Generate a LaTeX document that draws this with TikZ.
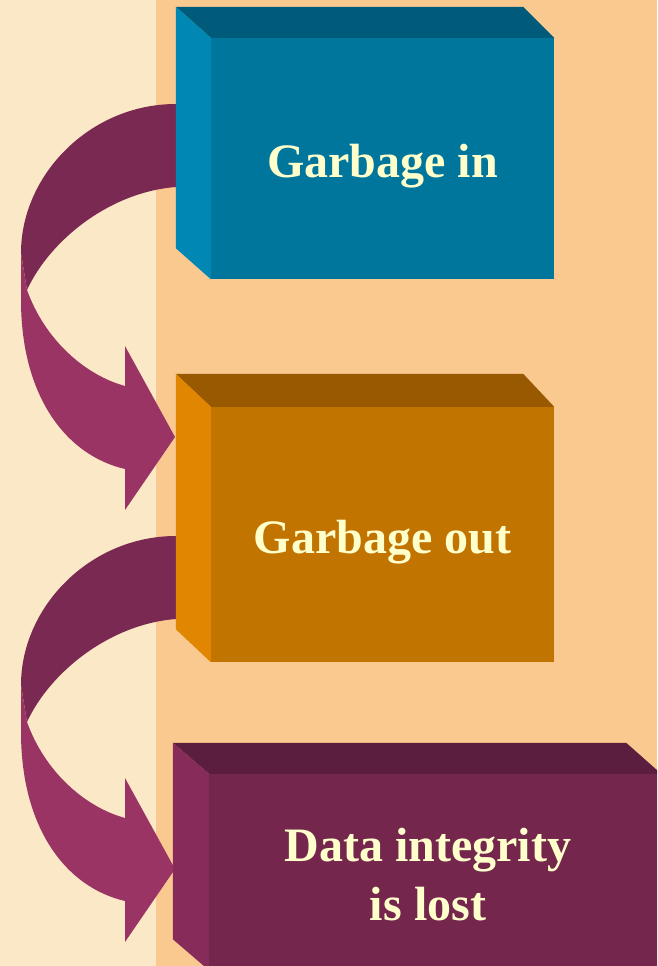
\documentclass[tikz,border=0pt]{standalone}
\usepackage{fontspec}
\setmainfont{Liberation Serif}
\usetikzlibrary{calc}
\definecolor{bgleft}{HTML}{FBE8C6}
\definecolor{bgright}{HTML}{F9C98F}
\definecolor{bluefront}{HTML}{00769C}
\definecolor{bluetop}{HTML}{005B7A}
\definecolor{blueside}{HTML}{0087B3}
\definecolor{orangefront}{HTML}{C27400}
\definecolor{orangetop}{HTML}{995900}
\definecolor{orangeside}{HTML}{E08600}
\definecolor{plumfront}{HTML}{74264D}
\definecolor{plumtop}{HTML}{5C1E3E}
\definecolor{plumside}{HTML}{862B5A}
\definecolor{arrowback}{HTML}{7A2952}
\definecolor{arrowfront}{HTML}{9A3465}
\definecolor{labelyellow}{HTML}{FFFFCC}
\begin{document}
\begin{tikzpicture}[x = 1pt, y = -1pt,
    block/.style = {inner sep = 0pt, minimum width = 343pt, align = center,
        text = labelyellow, font = \bfseries\fontsize{48}{59}\selectfont},
    oneline/.style = {text height = 37pt, text depth = 0pt}]
    \useasboundingbox(0,0)rectangle(657,966);
    \clip(0,0)rectangle(657,966);
    % background
    \path[fill = bgright](0,0)rectangle(657,966);
    \path[fill = bgleft](0,0)rectangle(156,966);
    % curved arrows
    \foreach \s in {0,432}{
        \begin{scope}[shift = {(0,\s)}]
            \path[fill = arrowback](176,104) .. controls (90,104) and (21,175) .. (21,253)
                --(27,290) .. controls (50,240) and (110,192) .. (176,187)--cycle;
            \path[fill = arrowfront](21,253)--(21,300) .. controls (21,395) and (65,455) .. (125,469)
                --(125,510)--(175,437)--(125,346)--(125,386)
                .. controls (85,375) and (45,340) .. (27,290)--cycle;
        \end{scope}
    }
    % box 1
    \node[block, oneline, fill = bluefront, minimum height = 241pt](b1)at(382.5,158.5){Garbage in};
    \path[fill = bluetop](b1.north west)--++(-35,-31)--($(b1.north east)+(-31,-31)$)--(b1.north east)--cycle;
    \path[fill = blueside](b1.north west)--++(-35,-31)--($(b1.south west)+(-35,-31)$)--(b1.south west)--cycle;
    % box 2
    \node[block, oneline, fill = orangefront, minimum height = 255pt](b2)at(382.5,534.5){Garbage out};
    \path[fill = orangetop](b2.north west)--++(-35,-33)--($(b2.north east)+(-31,-33)$)--(b2.north east)--cycle;
    \path[fill = orangeside](b2.north west)--++(-35,-33)--($(b2.south west)+(-35,-33)$)--(b2.south west)--cycle;
    % box 3
    \node[fill = plumfront, inner sep = 0pt, minimum width = 452pt, minimum height = 196pt](b3)at(435,872){};
    \path[fill = plumtop](b3.north west)--++(-36,-31)--($(b3.north east)+(-35,-31)$)--(b3.north east)--cycle;
    \path[fill = plumside](b3.north west)--++(-36,-31)--($(b3.south west)+(-36,-31)$)--(b3.south west)--cycle;
    \node[block, minimum width = 0pt](t3)at($(b3.center)+(-7,3)$){Data integrity\\is lost};
\end{tikzpicture}
\end{document}
